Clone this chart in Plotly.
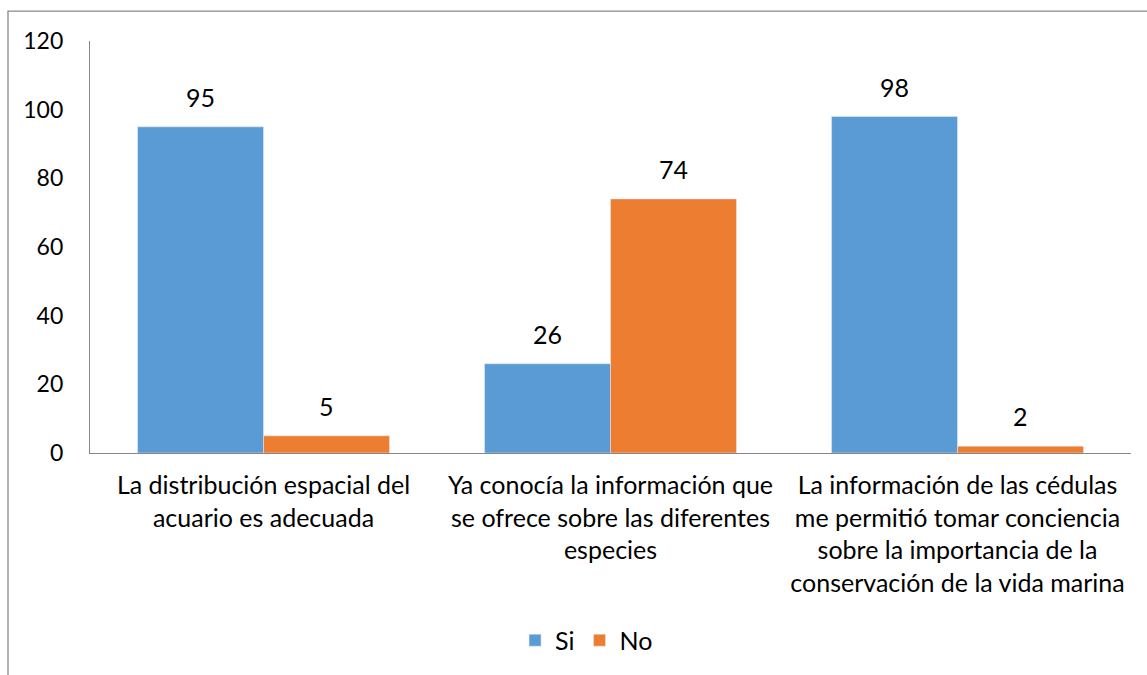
import plotly.graph_objects as go

categories = [
    "La distribución espacial del<br>acuario es adecuada",
    "Ya conocía la información que<br>se ofrece sobre las diferentes<br>especies",
    "La información de las cédulas<br>me permitió tomar conciencia<br>sobre la importancia de la<br>conservación de la vida marina",
]
si_values = [95, 26, 98]
no_values = [5, 74, 2]
y_ticks = [0, 20, 40, 60, 80, 100, 120]

FONT = "Lato"
FS = 25
fig = go.Figure()
fig.add_trace(go.Bar(name="Si", x=categories, y=si_values, marker_color="#5B9BD5"))
fig.add_trace(go.Bar(name="No", x=categories, y=no_values, marker_color="#ED7D31"))

annotations = []
for cat, v in zip(categories, si_values):
    annotations.append(dict(x=cat, y=v, xref="x", yref="y", text=str(v), showarrow=False,
                            xshift=-63, yshift=13, yanchor="bottom",
                            font=dict(size=FS, color="#000000", family=FONT)))
for cat, v in zip(categories, no_values):
    annotations.append(dict(x=cat, y=v, xref="x", yref="y", text=str(v), showarrow=False,
                            xshift=63, yshift=13, yanchor="bottom",
                            font=dict(size=FS, color="#000000", family=FONT)))

fig.update_layout(
    width=1147, height=675,
    margin=dict(l=90, r=16, t=41, b=220),
    paper_bgcolor="white", plot_bgcolor="white",
    barmode="group", bargap=0.274, bargroupgap=0,
    font=dict(family=FONT, size=FS, color="#000000"),
    showlegend=True,
    legend=dict(orientation="h", x=0.477, xanchor="center", y=-0.455, yanchor="middle",
                font=dict(size=FS), traceorder="normal", itemwidth=30),
    xaxis=dict(showline=True, linecolor="#868686", linewidth=1.3, ticks="",
               tickfont=dict(size=FS), showgrid=False, ticklabelstandoff=10),
    yaxis=dict(range=[0, 120], tickvals=y_ticks, showline=True, linecolor="#868686",
               linewidth=1.3, showgrid=False, zeroline=False, ticks="",
               ticklabelstandoff=21, tickfont=dict(size=23)),
    annotations=annotations,
    shapes=[dict(type="rect", xref="paper", yref="paper",
                 x0=-82/1041, x1=1.05, y0=-0.6, y1=(455-11)/414,
                 line=dict(color="#898989", width=1.3), fillcolor="rgba(0,0,0,0)",
                 layer="below")],
)
fig.write_html("out.html", config={"displayModeBar": False},
               post_script="document.body.style.margin='0';document.body.style.padding='0';")
